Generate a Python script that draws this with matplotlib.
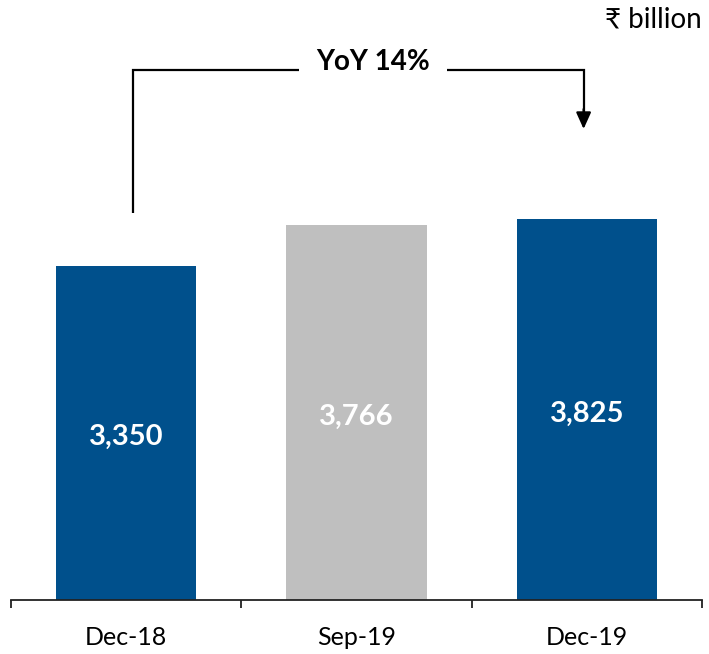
import matplotlib
matplotlib.use("Agg")
import matplotlib.pyplot as plt
from matplotlib.ticker import FixedLocator, NullFormatter, FixedFormatter

categories = ["Dec-18", "Sep-19", "Dec-19"]
values = [3350, 3766, 3825]
value_labels = ["3,350", "3,766", "3,825"]
bar_colors = ["#00508C", "#BFBFBF", "#00508C"]
yoy_label = "YoY 14%"
unit_label = "₹ billion"

FONT = ["Lato", "DejaVu Sans"]
plt.rcParams["font.family"] = FONT

W, H = 709, 654
fig = plt.figure(figsize=(W / 100, H / 100), dpi=100)
# axes placed in pixel terms: baseline at y=600, categories span x=11..702
ax = fig.add_axes([11 / W, 54 / H, 691 / W, 600 / H])
ax.set_xlim(-0.5, 2.5)
ax.set_ylim(0, 600 / 0.0996)

x = list(range(len(categories)))
ax.bar(x, values, width=0.61, color=bar_colors, zorder=2)

for xi, v, lab in zip(x, values, value_labels):
    ax.text(xi, v / 2 - 40, lab, ha="center", va="center", color="white",
            fontsize=21, fontweight="bold")

for side in ["top", "right", "left"]:
    ax.spines[side].set_visible(False)
ax.spines["bottom"].set_color("#222222")
ax.spines["bottom"].set_linewidth(1.3)
ax.set_yticks([])

ax.xaxis.set_major_locator(FixedLocator([-0.5, 0.5, 1.5, 2.5]))
ax.xaxis.set_major_formatter(NullFormatter())
ax.xaxis.set_minor_locator(FixedLocator(x))
ax.xaxis.set_minor_formatter(FixedFormatter(categories))
ax.tick_params(axis="x", which="major", direction="out", length=6, width=1.3,
               color="#222222")
ax.tick_params(axis="x", which="minor", length=0, pad=19, labelsize=18,
               labelcolor="black")

# YoY bracket from Dec-18 to Dec-19
y_top = 5321
y_left_start = 3886
y_arrow_end = 4729
x_left, x_right = 0.03, 1.986
gap_l = (299 - 11) / 230.5 - 0.5
gap_r = (447 - 11) / 230.5 - 0.5
line_kw = dict(color="black", lw=1.6, clip_on=False, zorder=3)
ax.plot([x_left, x_left, gap_l], [y_left_start, y_top, y_top],
        solid_capstyle="butt", solid_joinstyle="miter", **line_kw)
ax.plot([gap_r, x_right, x_right], [y_top, y_top, y_arrow_end + 100],
        solid_capstyle="butt", solid_joinstyle="miter", **line_kw)
ax.annotate("", xy=(x_right, y_arrow_end), xytext=(x_right, y_arrow_end + 200),
            arrowprops=dict(arrowstyle="-|>,head_width=0.45,head_length=1.0",
                            color="black", lw=1.6, shrinkA=0, shrinkB=0),
            annotation_clip=False)
ax.text((gap_l + gap_r) / 2, y_top + 85, yoy_label, ha="center", va="center",
        fontsize=20, fontweight="bold", color="black")

fig.text(702 / W, 1 - 20 / H, unit_label, ha="right", va="center",
         fontsize=20, color="black")

fig.savefig("out.png", dpi=100)
